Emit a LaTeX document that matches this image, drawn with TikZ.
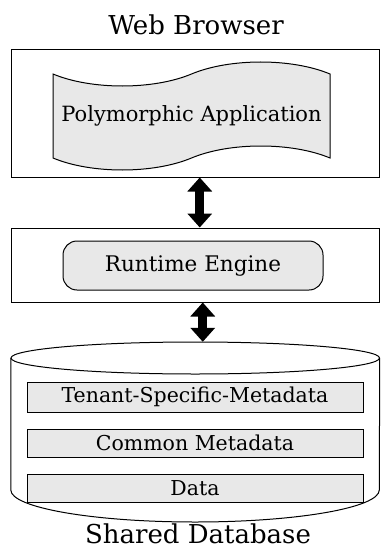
\documentclass[tikz,border=0pt]{standalone}
\usepackage{fontspec}
\setmainfont{DejaVu Serif}
\usetikzlibrary{shapes.symbols, positioning, arrows.meta}
\definecolor{boxgray}{HTML}{E8E8E8}
\tikzset{
    >={Triangle[length=14pt, width=24pt]}, % fat arrow heads
    node distance=16pt, % gap between the rows of the database
    frame/.style={draw, line width=1pt, minimum width=368.5pt, inner sep=0pt}, % the two big boxes
    part/.style={draw, line width=1pt, fill=boxgray, inner sep=0pt}, % gray boxes inside them
    dbrow/.style={part, minimum width=336pt, minimum height=28pt, font=\fontsize{20.5}{24}\selectfont},
    title/.style={font=\fontsize{26}{30}\selectfont},
    link/.style={<->, line width=9pt},
}
\begin{document}
\begin{tikzpicture}[x=1pt, y=-1pt]
    \useasboundingbox (0,0) rectangle (380,551);
    % browser layer
    \node[title] (WB) at (196,25) {Web Browser};
    \node[frame, minimum height=127pt] (BROWSER) at (195.25,113.5) {};
    \node[part, tape, tape bend height=24pt, minimum width=277pt, minimum height=108pt,
          font=\fontsize{21}{25}\selectfont] (APP) at (191.5,116) {Polymorphic Application};

    % runtime layer
    \node[frame, minimum height=74pt] (RUNTIME) at (195.25,265) {};
    \node[part, rounded corners=14pt, minimum width=260pt, minimum height=49pt,
          font=\fontsize{21.5}{25}\selectfont] (ENGINE) at (193,265.5) {Runtime Engine};

    % database can
    \node[minimum width=368.5pt, minimum height=180pt, inner sep=0pt] (DB) at (195.25,432) {};
    \draw[line width=1pt] (195.25,358) ellipse [x radius=184.25pt, y radius=16pt];
    \draw[line width=1pt] (DB.west |- 0,358) -- (DB.west |- 0,490)
        arc[start angle=180, end angle=360, x radius=184.25pt, y radius=32pt] -- (DB.east |- 0,358);
    \node[dbrow, minimum height=30pt] (TENANT) at (195,397) {Tenant-Specific-Metadata};
    \node[dbrow, below=of TENANT] (COMMON) {Common Metadata};
    \node[dbrow, below=of COMMON] (DATA) {Data};
    \node[title, anchor=base, inner ysep=0pt] (SD) at (198,543) {Shared Database};

    % links between the layers
    \draw[link] ([xshift=4.5pt]BROWSER.south) -- ([xshift=4.5pt]RUNTIME.north);
    \draw[link] ([xshift=7.5pt]RUNTIME.south) -- ([xshift=7.5pt]DB.north);
\end{tikzpicture}
\end{document}
